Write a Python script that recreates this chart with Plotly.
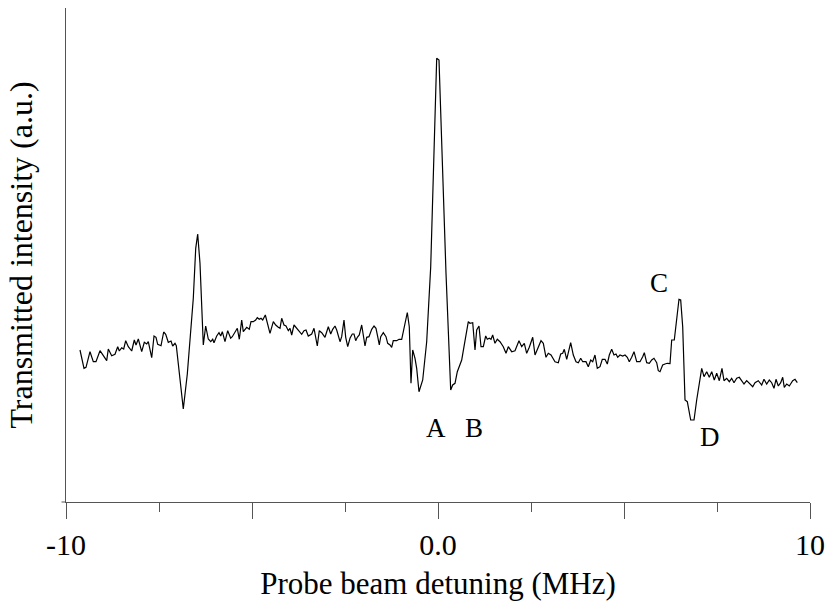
import plotly.graph_objects as go

# Probe beam detuning (MHz)
detuning = [
    -9.624, -9.516, -9.462, -9.355, -9.266, -9.194, -9.086, -8.997, -8.906, -8.863,
    -8.772, -8.683, -8.610, -8.567, -8.503, -8.449, -8.395, -8.325, -8.234, -8.164,
    -8.118, -8.056, -7.965, -7.895, -7.831, -7.788, -7.696, -7.634, -7.581, -7.535,
    -7.446, -7.374, -7.320, -7.250, -7.177, -7.132, -7.070, -7.035, -6.935, -6.847,
    -6.739, -6.667, -6.578, -6.513, -6.460, -6.398, -6.309, -6.245, -6.175,
    -6.110, -6.056, -6.022, -5.949, -5.887, -5.841, -5.798, -5.726, -5.653, -5.573,
    -5.530, -5.457, -5.395, -5.341, -5.277, -5.234, -5.188, -5.142, -5.073, -5.027,
    -4.965, -4.901, -4.858, -4.804, -4.758, -4.712, -4.642, -4.562, -4.516, -4.427,
    -4.363, -4.293, -4.247, -4.202, -4.140, -4.086, -4.024, -3.978, -3.933, -3.871,
    -3.798, -3.737, -3.664, -3.602, -3.548, -3.487, -3.395, -3.333, -3.245, -3.191,
    -3.126, -3.038, -2.949, -2.884, -2.831, -2.769, -2.723, -2.634, -2.589, -2.527,
    -2.481, -2.427, -2.366, -2.304, -2.258, -2.212, -2.169, -2.116, -2.051, -1.962,
    -1.917, -1.855, -1.782, -1.720, -1.667, -1.621, -1.578, -1.540, -1.470, -1.398,
    -1.352, -1.290, -1.245, -1.202, -1.110, -1.048, -0.976,
    -0.825, -0.772, -0.726, -0.680, -0.618, -0.573, -0.511, -0.411, -0.304, -0.196,
    -0.035, 0.027, 0.215, 0.341, 0.395, 0.457, 0.519, 0.591, 0.637, 0.699,
    0.753, 0.815, 0.860, 0.933, 0.995, 1.040, 1.102, 1.156, 1.218, 1.282,
    1.325, 1.379, 1.425, 1.470, 1.532, 1.594, 1.667, 1.755, 1.828, 1.890,
    1.981, 2.070, 2.177, 2.250, 2.320, 2.384, 2.454, 2.546, 2.608, 2.680,
    2.769, 2.831, 2.903, 2.965, 3.038, 3.145, 3.234, 3.298, 3.352, 3.395,
    3.460, 3.567, 3.637, 3.710, 3.772, 3.836, 3.890, 3.978, 4.040, 4.105,
    4.159, 4.220, 4.282, 4.355, 4.417, 4.489, 4.551, 4.605, 4.669, 4.731,
    4.785, 4.831, 4.892, 4.965, 5.027, 5.089, 5.142, 5.207, 5.269, 5.341,
    5.430, 5.503, 5.546, 5.610, 5.680, 5.745, 5.806, 5.879, 5.922, 5.968,
    6.040, 6.102, 6.164, 6.237, 6.282, 6.352, 6.417, 6.478, 6.524, 6.578,
    6.640, 6.702, 6.793, 6.882, 6.954, 7.016, 7.089, 7.151, 7.223, 7.293,
    7.358, 7.427, 7.492, 7.562, 7.634, 7.688, 7.761, 7.831, 7.895, 7.957,
    8.030, 8.099, 8.164, 8.226, 8.298, 8.368, 8.460, 8.522, 8.610, 8.702,
    8.763, 8.836, 8.906, 8.970, 9.032, 9.086, 9.148, 9.212, 9.266, 9.309,
    9.374, 9.444, 9.535, 9.597, 9.659,
]

# Transmitted intensity (a.u.)
intensity = [
    1.520, 1.337, 1.347, 1.503, 1.403, 1.403, 1.513, 1.460, 1.413, 1.530,
    1.463, 1.477, 1.553, 1.510, 1.543, 1.530, 1.613, 1.553, 1.510, 1.620,
    1.570, 1.630, 1.503, 1.597, 1.580, 1.603, 1.443, 1.660, 1.647, 1.577,
    1.563, 1.700, 1.677, 1.597, 1.610, 1.560, 1.587, 1.563, 1.237, 0.930,
    1.280, 1.620, 2.037, 2.537, 2.680, 2.387, 1.570, 1.760, 1.630,
    1.603, 1.627, 1.593, 1.660, 1.693, 1.660, 1.703, 1.603, 1.713, 1.637,
    1.653, 1.703, 1.737, 1.627, 1.820, 1.703, 1.727, 1.747, 1.727, 1.803,
    1.803, 1.820, 1.843, 1.827, 1.837, 1.820, 1.870, 1.737, 1.687, 1.803,
    1.770, 1.747, 1.737, 1.837, 1.770, 1.760, 1.713, 1.737, 1.670, 1.770,
    1.737, 1.703, 1.677, 1.713, 1.720, 1.660, 1.680, 1.737, 1.560, 1.713,
    1.693, 1.647, 1.753, 1.680, 1.727, 1.760, 1.720, 1.603, 1.653, 1.820,
    1.647, 1.553, 1.637, 1.680, 1.680, 1.613, 1.647, 1.670, 1.770, 1.560,
    1.647, 1.653, 1.727, 1.760, 1.737, 1.653, 1.570, 1.653, 1.693, 1.653,
    1.587, 1.570, 1.547, 1.613, 1.613, 1.627, 1.627,
    1.895, 1.753, 1.187, 1.520, 1.437, 1.337, 1.103, 1.220, 1.603, 2.353,
    4.437, 4.420, 2.287, 1.120, 1.170, 1.187, 1.303, 1.370, 1.420, 1.553,
    1.653, 1.803, 1.787, 1.793, 1.520, 1.720, 1.760, 1.553, 1.553, 1.660,
    1.627, 1.637, 1.627, 1.670, 1.587, 1.627, 1.603, 1.553, 1.487, 1.553,
    1.503, 1.513, 1.613, 1.553, 1.587, 1.487, 1.547, 1.647, 1.470, 1.537,
    1.613, 1.587, 1.447, 1.487, 1.470, 1.403, 1.393, 1.480, 1.487, 1.527,
    1.427, 1.593, 1.470, 1.403, 1.393, 1.437, 1.403, 1.403, 1.353, 1.420,
    1.403, 1.470, 1.337, 1.353, 1.427, 1.427, 1.380, 1.470, 1.527, 1.470,
    1.480, 1.447, 1.470, 1.460, 1.470, 1.447, 1.403, 1.447, 1.503, 1.403,
    1.403, 1.453, 1.493, 1.393, 1.387, 1.420, 1.437, 1.393, 1.313, 1.303,
    1.370, 1.380, 1.387, 1.385, 1.620, 1.620, 1.870, 2.027, 2.020, 1.753,
    1.020, 1.003, 0.820, 0.820, 1.020, 1.187, 1.337, 1.253, 1.303, 1.247,
    1.303, 1.220, 1.287, 1.213, 1.337, 1.213, 1.237, 1.203, 1.237, 1.193,
    1.237, 1.247, 1.213, 1.180, 1.213, 1.187, 1.153, 1.193, 1.213, 1.170,
    1.227, 1.180, 1.220, 1.193, 1.137, 1.227, 1.160, 1.193, 1.247, 1.147,
    1.180, 1.160, 1.213, 1.227, 1.193,
]

# Tick labels
x_tickvals = [-10, -5, 0, 5, 10]
x_ticktext = ["-10", "", "0.0", "", "10"]

# Peak labels
label_text = ["A", "B", "C", "D"]
label_x = [-0.05, 0.97, 5.94, 7.31]
label_y = [0.74, 0.74, 2.19, 0.65]

FONT = "Liberation Serif, Times New Roman, serif"
AXIS_COLOR = "#555555"

fig = go.Figure()
fig.add_trace(go.Scatter(
    x=detuning, y=intensity, mode="lines",
    line=dict(color="black", width=1.2),
    showlegend=False, hoverinfo="skip",
))

for t, xx, yy in zip(label_text, label_x, label_y):
    fig.add_annotation(x=xx, y=yy, text=t, showarrow=False,
                       font=dict(family=FONT, size=27, color="black"))

# small overhang of the x axis line to the left of the y axis
fig.add_shape(type="line", xref="paper", yref="paper",
              x0=-0.006, x1=0, y0=0, y1=0,
              line=dict(color=AXIS_COLOR, width=1))

fig.update_layout(
    width=835, height=605,
    margin=dict(l=66, r=25, t=8, b=103),
    paper_bgcolor="white", plot_bgcolor="white",
    font=dict(family=FONT, color="black"),
    xaxis=dict(
        range=[-10, 10], showgrid=False, zeroline=False,
        showline=True, linecolor=AXIS_COLOR, linewidth=1,
        tickmode="array", tickvals=x_tickvals, ticktext=x_ticktext,
        ticks="outside", ticklen=16, tickcolor=AXIS_COLOR, tickwidth=1,
        minor=dict(tick0=-10, dtick=2.5, ticks="outside", ticklen=9,
                   tickcolor=AXIS_COLOR, tickwidth=1),
        tickfont=dict(family=FONT, size=30, color="black"),
        title=dict(text="Probe beam detuning (MHz)",
                   font=dict(family=FONT, size=31, color="black"),
                   standoff=12),
    ),
    yaxis=dict(
        range=[0, 4.94], showgrid=False, zeroline=False,
        showline=True, linecolor=AXIS_COLOR, linewidth=1,
        showticklabels=False, ticks="",
        title=dict(text="Transmitted intensity (a.u.)",
                   font=dict(family=FONT, size=32, color="black"),
                   standoff=22),
    ),
)

fig.write_html("out.html",
               config={"displayModeBar": False},
               post_script="document.body.style.margin='0';document.body.style.overflow='hidden';")
